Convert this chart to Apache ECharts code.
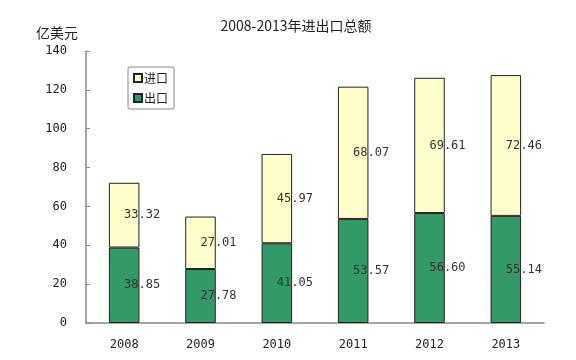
<!DOCTYPE html>
<html><head><meta charset="utf-8">
<script src="https://cdn.jsdelivr.net/npm/echarts@6/dist/echarts.min.js"></script>
<style>html,body{margin:0;padding:0;background:#fff}#c{width:576px;height:360px}</style>
</head><body><div id="c"></div>
<script>
var years = ['2008','2009','2010','2011','2012','2013'];
var exportVals = [38.85, 27.78, 41.05, 53.57, 56.60, 55.14];
var importVals = [33.32, 27.01, 45.97, 68.07, 69.61, 72.46];
var yTicks = {min: 0, max: 140, interval: 20};

var chart = echarts.init(document.getElementById('c'), null, {renderer: 'canvas'});
var lbl = {
  show: true, position: 'inside', offset: [18, 0],
  color: '#333', fontSize: 12, fontFamily: 'DejaVu Sans Mono',
  formatter: function (p) { return p.value.toFixed(2); }
};
chart.setOption({
  animation: false,
  title: {
    text: '2008-2013年进出口总额', left: 291, top: 14, textAlign: 'center',
    textStyle: {fontSize: 14, fontWeight: 'normal', color: '#222', fontFamily: 'Noto Sans CJK SC'}
  },
  legend: {
    orient: 'vertical', left: 128, top: 67,
    data: ['进口', '出口'],
    icon: 'rect', itemWidth: 8, itemHeight: 8, itemGap: 8,
    padding: [5, 6, 5, 5], borderColor: '#888', borderWidth: 1, borderRadius: 2,
    textStyle: {fontSize: 12, color: '#222', fontFamily: 'Noto Sans CJK SC', padding: [0, 0, 0, -3]}
  },
  grid: {left: 86, right: 32, top: 51, bottom: 37},
  xAxis: {
    type: 'category', data: years, boundaryGap: true,
    axisLine: {lineStyle: {color: '#888', width: 1.5}},
    axisTick: {inside: true, length: 4, lineStyle: {color: '#888'}},
    axisLabel: {margin: 16, fontSize: 12, color: '#222', fontFamily: 'DejaVu Sans Mono'}
  },
  yAxis: {
    type: 'value', min: yTicks.min, max: yTicks.max, interval: yTicks.interval,
    name: '亿美元', nameLocation: 'end', nameGap: 11,
    nameTextStyle: {fontSize: 14, color: '#222', fontFamily: 'Noto Sans CJK SC', align: 'right', padding: [0, 8, 0, 0]},
    axisLine: {show: true, lineStyle: {color: '#888', width: 1.5}},
    axisTick: {show: true, inside: true, length: 4, lineStyle: {color: '#888'}},
    splitLine: {show: false},
    axisLabel: {margin: 19, fontSize: 12, color: '#222', fontFamily: 'DejaVu Sans Mono'}
  },
  series: [
    {name: '出口', type: 'bar', stack: 'total', data: exportVals, barWidth: '40%',
     itemStyle: {color: '#339966', borderColor: '#222', borderWidth: 1}, label: lbl},
    {name: '进口', type: 'bar', stack: 'total', data: importVals, barWidth: '40%',
     itemStyle: {color: '#FFFFCC', borderColor: '#222', borderWidth: 1}, label: lbl}
  ]
});
</script></body></html>
